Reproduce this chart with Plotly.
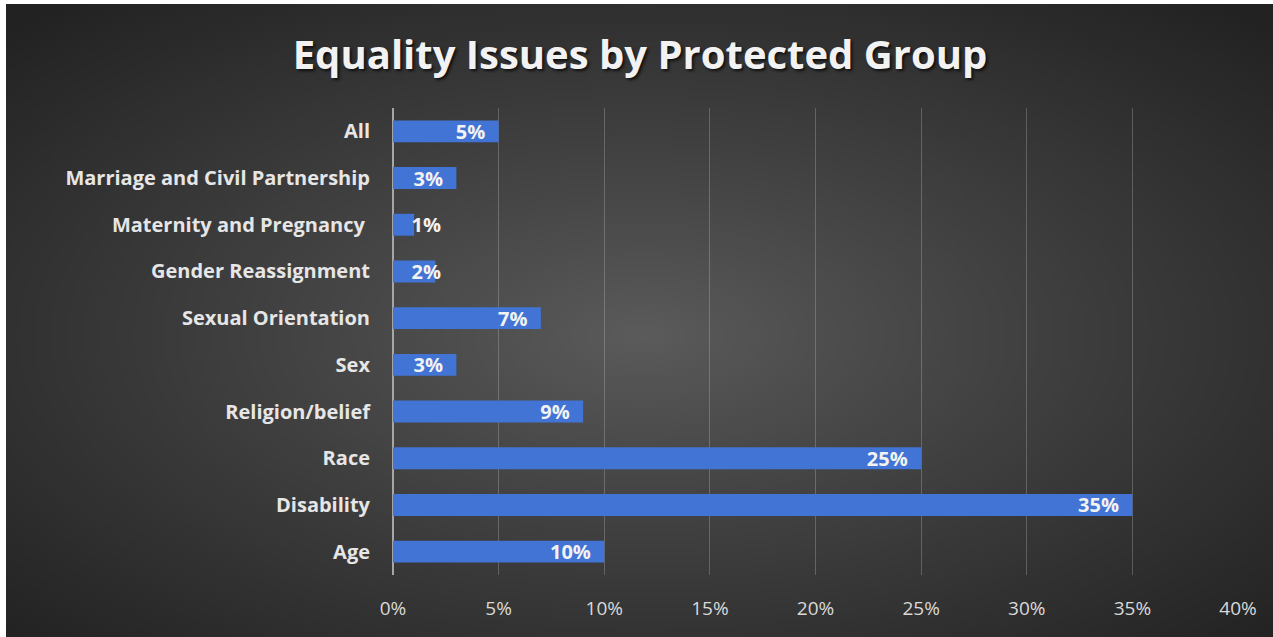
import base64
import struct
import zlib

import numpy as np
import plotly.graph_objects as go

# ---------------- data ----------------
categories = [
    "Age",
    "Disability",
    "Race",
    "Religion/belief",
    "Sex",
    "Sexual Orientation",
    "Gender Reassignment",
    "Maternity and Pregnancy\u00a0",
    "Marriage and Civil Partnership",
    "All",
]
values = [0.10, 0.35, 0.25, 0.09, 0.03, 0.07, 0.02, 0.01, 0.03, 0.05]
x_tick_vals = [0.0, 0.05, 0.10, 0.15, 0.20, 0.25, 0.30, 0.35, 0.40]
x_tick_text = ["0%", "5%", "10%", "15%", "20%", "25%", "30%", "35%", "40%"]
title_text = "Equality Issues by Protected Group"

# ---------------- geometry ----------------
W, H = 1273, 637
ML, MR, MT, MB = 393, 35, 108, 62
PW, PH = W - ML - MR, H - MT - MB
BG_LEFT, BG_TOP = 6, 4


# ---------------- background radial gradient (PNG data URI) ----------------
def make_gradient_png(w=320, h=160):
    ys, xs = np.mgrid[0:h, 0:w].astype(float)
    cx, cy = w * 0.50, h * 0.52
    r = np.sqrt(((xs - cx) / (w / 2)) ** 2 + ((ys - cy) / (h / 2)) ** 2) / np.sqrt(2)
    r = np.clip(r, 0, 1)
    c_center, c_edge = 92.0, 34.0
    val = c_center + (c_edge - c_center) * (r ** 0.9)
    img = np.stack([val, val, val], axis=-1).clip(0, 255).astype(np.uint8)
    raw = b"".join(b"\x00" + img[i].tobytes() for i in range(h))

    def chunk(tag, data):
        c = struct.pack(">I", len(data)) + tag + data
        return c + struct.pack(">I", zlib.crc32(tag + data) & 0xFFFFFFFF)

    png = b"\x89PNG\r\n\x1a\n"
    png += chunk(b"IHDR", struct.pack(">IIBBBBB", w, h, 8, 2, 0, 0, 0))
    png += chunk(b"IDAT", zlib.compress(raw, 9))
    png += chunk(b"IEND", b"")
    return "data:image/png;base64," + base64.b64encode(png).decode()


bg_uri = make_gradient_png()

FONT = "Open Sans"
BAR_COLOR = "#4174d4"
LABEL_FONT = dict(family=FONT, size=20, color="#f2f2f2", weight="bold")
TEMPLATE = "\u00a0\u00a0\u00a0%{x:.0%}\u00a0\u00a0"

# bars wide enough hold their label at the inside end; the narrow ones
# get it anchored at the bar start (overflowing to the right), like Excel
big = [(c, v) for c, v in zip(categories, values) if v >= 0.03]
small = [(c, v) for c, v in zip(categories, values) if v < 0.03]

fig = go.Figure()
for group, anchor in ((big, "end"), (small, "start")):
    fig.add_trace(
        go.Bar(
            x=[v for _, v in group],
            y=[c for c, _ in group],
            orientation="h",
            marker=dict(color=BAR_COLOR, line=dict(width=0)),
            width=0.47,
            texttemplate=TEMPLATE,
            textposition="inside",
            insidetextanchor=anchor,
            constraintext="none",
            textangle=0,
            textfont=LABEL_FONT,
            cliponaxis=False,
            hoverinfo="skip",
        )
    )

fig.update_layout(
    width=W,
    height=H,
    autosize=False,
    barmode="overlay",
    margin=dict(l=ML, r=MR, t=MT, b=MB, pad=0),
    paper_bgcolor="#ffffff",
    plot_bgcolor="rgba(0,0,0,0)",
    showlegend=False,
    title=dict(
        text=title_text,
        x=640 / W,
        xref="container",
        xanchor="center",
        y=1 - 55 / H,
        yref="container",
        yanchor="middle",
        font=dict(
            family=FONT,
            size=40,
            color="#f2f2f2",
            weight="bold",
            shadow="2px 2px 3px rgba(0,0,0,0.7)",
        ),
    ),
    images=[
        dict(
            source=bg_uri,
            xref="paper",
            yref="paper",
            x=(BG_LEFT - ML) / PW,
            y=1 + (MT - BG_TOP) / PH,
            sizex=(W - BG_LEFT) / PW,
            sizey=(H - BG_TOP) / PH,
            xanchor="left",
            yanchor="top",
            sizing="stretch",
            layer="below",
        )
    ],
)

fig.update_xaxes(
    range=[0, 0.40],
    tickvals=x_tick_vals,
    ticktext=x_tick_text,
    showgrid=True,
    gridcolor="rgba(210,210,210,0.28)",
    gridwidth=1,
    zeroline=True,
    zerolinecolor="#a6a6a6",
    zerolinewidth=2,
    showline=False,
    ticks="outside",
    ticklen=16,
    tickcolor="rgba(0,0,0,0)",
    tickfont=dict(family=FONT, size=19, color="#d9d9d9"),
    fixedrange=True,
)

fig.update_yaxes(
    categoryorder="array",
    categoryarray=categories,
    showgrid=False,
    zeroline=False,
    showline=False,
    ticks="outside",
    ticklen=18,
    tickcolor="rgba(0,0,0,0)",
    tickfont=dict(family=FONT, size=20, color="#e6e6e6", weight="bold"),
    fixedrange=True,
)

fig.write_html("out.html", config={"displayModeBar": False})
